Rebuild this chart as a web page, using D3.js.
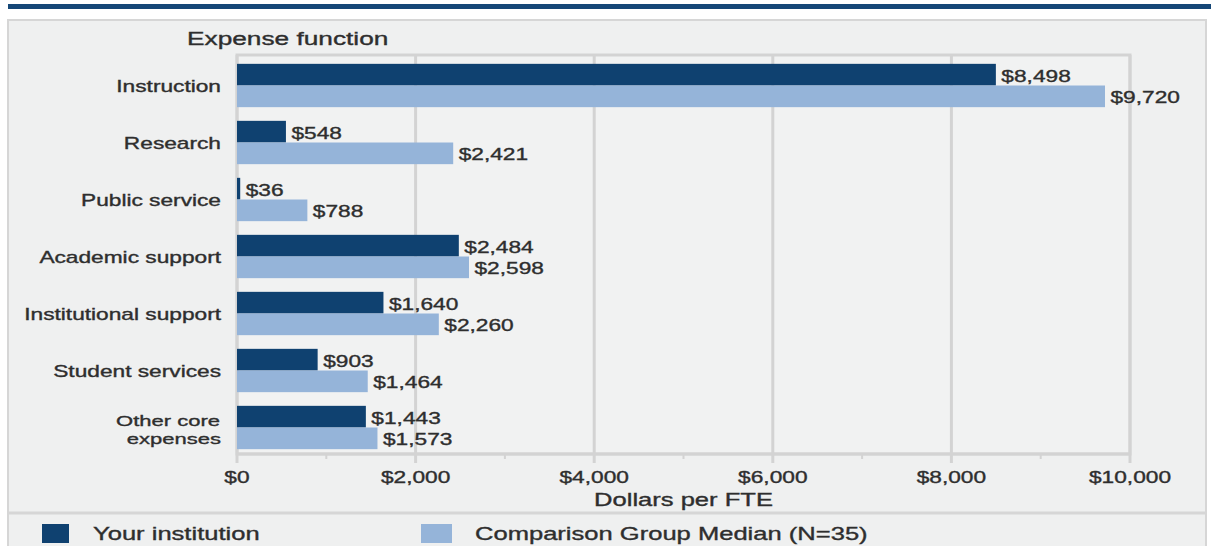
<!DOCTYPE html>
<html>
<head>
<meta charset="utf-8">
<script src="https://cdn.jsdelivr.net/npm/d3@7"></script>
<style>
  html, body { margin: 0; padding: 0; background: #ffffff; }
  svg { display: block; }
  text { font-family: "Liberation Sans", Arial, sans-serif; fill: #2e2e2e; stroke: #2e2e2e; stroke-width: 0.35px; }
</style>
</head>
<body>
<svg id="chart" width="1211" height="546"></svg>
<script>
// Expense functions per FTE: this institution vs. the comparison group median
const categories = [
  ["Instruction"],
  ["Research"],
  ["Public service"],
  ["Academic support"],
  ["Institutional support"],
  ["Student services"],
  ["Other core", "expenses"]
];
const institutionValues = [8498, 548, 36, 2484, 1640, 903, 1443];
const medianValues = [9720, 2421, 788, 2598, 2260, 1464, 1573];
const seriesNames = ["Your institution", "Comparison Group Median (N=35)"];
const xTicks = [0, 2000, 4000, 6000, 8000, 10000];
const xMinorTicks = [1000, 3000, 5000, 7000, 9000];
const axisTitle = "Dollars per FTE";
const yAxisTitle = "Expense function";

const colors = { institution: "#0f4170", median: "#95b4d9" };
const sx = 1.42; // horizontal text stretch

const svg = d3.select("#chart");

// helper: stretched text anchored at (x, y)
function label(parent, x, y, str, opts = {}) {
  return parent.append("text")
    .attr("transform", `translate(${x},${y}) scale(${sx},1)`)
    .attr("text-anchor", opts.anchor || "start")
    .style("font-size", (opts.size || 16) + "px")
    .text(str);
}

// top stripe and panel
svg.append("rect").attr("x", 8).attr("y", 4).attr("width", 1203).attr("height", 5).attr("fill", "#154777");
svg.append("rect").attr("x", 8).attr("y", 20).attr("width", 1198).attr("height", 560)
  .attr("fill", "#eff0f0").attr("stroke", "#d6d6d6").attr("stroke-width", 2);
svg.append("line").attr("x1", 8).attr("x2", 1206).attr("y1", 513).attr("y2", 513)
  .attr("stroke", "#d6d6d6").attr("stroke-width", 3);

const x = d3.scaleLinear().domain([0, 10000]).range([237, 1130]);
const y = d3.scaleBand().domain(d3.range(categories.length)).range([57, 456])
  .paddingInner(0.24).paddingOuter(0.12);
const sub = d3.scaleBand().domain([0, 1]).range([0, y.bandwidth()]);

const plotTop = 55, plotBottom = 454;

// plot frame
svg.append("rect").attr("x", x(0)).attr("y", plotTop)
  .attr("width", x(10000) - x(0)).attr("height", plotBottom - plotTop)
  .attr("fill", "#f1f2f2").attr("stroke", "#d3d3d3").attr("stroke-width", 3);

// gridlines (extend below the axis as tick marks)
svg.append("g").selectAll("line").data(xTicks).join("line")
  .attr("x1", d => x(d)).attr("x2", d => x(d))
  .attr("y1", plotTop).attr("y2", 463)
  .attr("stroke", "#d3d3d3").attr("stroke-width", 3);
svg.append("g").selectAll("line").data(xMinorTicks).join("line")
  .attr("x1", d => x(d)).attr("x2", d => x(d))
  .attr("y1", plotBottom).attr("y2", 459)
  .attr("stroke", "#d3d3d3").attr("stroke-width", 2);
svg.append("line").attr("x1", x(0)).attr("x2", x(10000))
  .attr("y1", plotBottom).attr("y2", plotBottom)
  .attr("stroke", "#d3d3d3").attr("stroke-width", 3);

// bars
const series = [institutionValues, medianValues];
const seriesColors = [colors.institution, colors.median];
const fmt = v => "$" + d3.format(",")(v);
series.forEach((vals, si) => {
  const g = svg.append("g");
  g.selectAll("rect").data(vals).join("rect")
    .attr("x", x(0))
    .attr("y", (d, i) => y(i) + sub(si))
    .attr("width", d => x(d) - x(0))
    .attr("height", sub.bandwidth())
    .attr("fill", seriesColors[si]);
  vals.forEach((d, i) => {
    label(svg, x(d) + 5.5, y(i) + sub(si) + sub.bandwidth() / 2 + 7, fmt(d), { size: 16 });
  });
});

// category labels
categories.forEach((lines, i) => {
  const cy = y(i) + y.bandwidth() / 2;
  if (lines.length === 1) {
    label(svg, 221, cy + 6.5, lines[0], { anchor: "end", size: 16 });
  } else {
    label(svg, 220, cy - 2, lines[0], { anchor: "end", size: 15.5 });
    label(svg, 221, cy + 16, lines[1], { anchor: "end", size: 15.5 });
  }
});

// titles
label(svg, 187, 45, yAxisTitle, { size: 18.5 });
xTicks.forEach(t => label(svg, x(t), 483, fmt(t), { anchor: "middle", size: 16 }));
label(svg, (x(0) + x(10000)) / 2, 506, axisTitle, { anchor: "middle", size: 18 });

// legend
svg.append("rect").attr("x", 42).attr("y", 524).attr("width", 27).attr("height", 19).attr("fill", colors.institution);
label(svg, 93, 540, seriesNames[0], { size: 18 });
svg.append("rect").attr("x", 421).attr("y", 524).attr("width", 31).attr("height", 19).attr("fill", colors.median);
label(svg, 475, 540, seriesNames[1], { size: 18 });
</script>
</body>
</html>
